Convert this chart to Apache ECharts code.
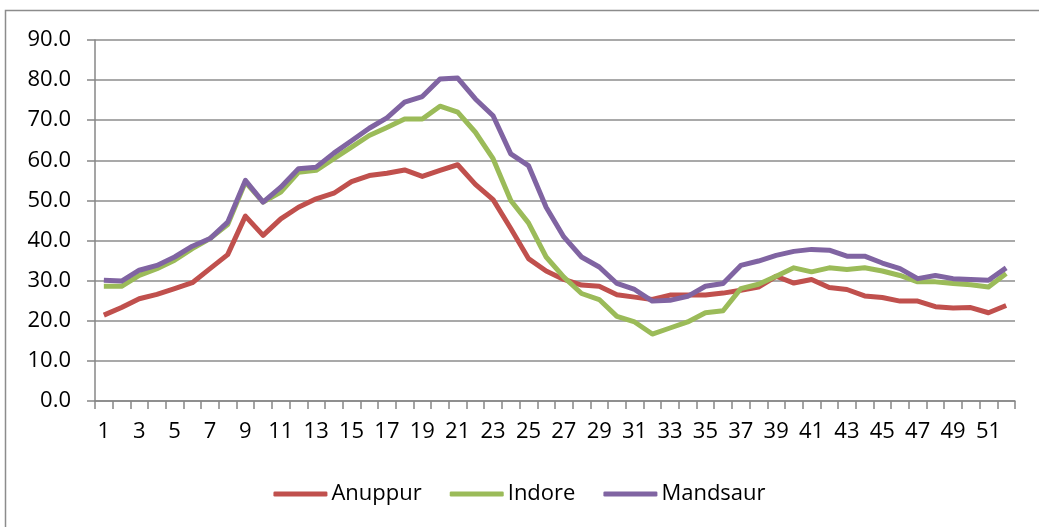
<!DOCTYPE html>
<html>
<head>
<meta charset="utf-8">
<script src="https://cdn.jsdelivr.net/npm/echarts@6/dist/echarts.min.js"></script>
<style>
  html, body { margin: 0; padding: 0; background: #fff; }
  #chart { width: 1039px; height: 527px; }
</style>
</head>
<body>
<div id="chart"></div>
<script>
var weeks = [];
for (var i = 1; i <= 52; i++) weeks.push(String(i));

var anuppur = [21.4, 23.3, 25.5, 26.6, 28.0, 29.5, 33.0, 36.5, 46.1, 41.3,
    45.4, 48.3, 50.4, 51.8, 54.7, 56.2, 56.8, 57.6, 56.0, 57.5,
    58.9, 54.0, 50.2, 43.0, 35.5, 32.4, 30.3, 28.9, 28.6, 26.5,
    25.9, 25.3, 26.4, 26.4, 26.4, 26.9, 27.6, 28.4, 31.1, 29.4,
    30.3, 28.3, 27.8, 26.2, 25.8, 24.9, 24.9, 23.5, 23.2, 23.3,
    22.0, 23.8];
var indore = [28.6, 28.6, 31.3, 33.0, 35.1, 38.0, 40.5, 44.0, 54.6, 49.6,
    52.1, 57.0, 57.5, 60.4, 63.3, 66.2, 68.2, 70.3, 70.3, 73.5,
    72.0, 67.0, 60.4, 50.0, 44.4, 35.9, 30.9, 26.8, 25.3, 21.1,
    19.7, 16.7, 18.2, 19.7, 22.0, 22.5, 28.0, 29.1, 31.1, 33.2,
    32.2, 33.2, 32.8, 33.2, 32.4, 31.3, 29.7, 29.7, 29.3, 29.0,
    28.4, 31.8];
var mandsaur = [30.1, 29.9, 32.6, 33.8, 35.9, 38.6, 40.5, 44.6, 55.0, 49.6,
    53.3, 57.9, 58.3, 61.8, 64.9, 68.0, 70.6, 74.5, 75.9, 80.3,
    80.5, 75.3, 71.1, 61.6, 58.7, 48.3, 40.9, 35.9, 33.4, 29.3,
    27.8, 24.9, 25.1, 26.1, 28.6, 29.3, 33.8, 34.9, 36.3, 37.3,
    37.8, 37.6, 36.1, 36.1, 34.4, 33.0, 30.5, 31.3, 30.5, 30.3,
    30.1, 33.2];

var seriesNames = ['Anuppur', 'Indore', 'Mandsaur'];
var seriesColors = ['#C0504D', '#9BBB59', '#8064A2'];
var seriesData = [anuppur, indore, mandsaur];

var fontName = 'Open Sans';

var option = {
    animation: false,
    backgroundColor: '#fff',
    graphic: [{
        type: 'rect',
        shape: { x: 5.5, y: 10.5, width: 1060, height: 560 },
        style: { fill: 'none', stroke: '#8c8c8c', lineWidth: 1.5 },
        silent: true
    }],
    grid: {
        left: 95,
        right: 24,
        top: 40,
        bottom: 126
    },
    legend: {
        data: seriesNames,
        left: 'center',
        top: 478,
        icon: 'roundRect',
        itemWidth: 54,
        itemHeight: 5,
        itemGap: 28,
        textStyle: { fontFamily: fontName, fontSize: 22, color: '#000', padding: [0, 0, 0, -1] }
    },
    xAxis: {
        type: 'category',
        data: weeks,
        boundaryGap: true,
        axisLine: { lineStyle: { color: '#878787', width: 1.5 } },
        axisTick: { show: true, interval: 0, length: 8, lineStyle: { color: '#878787', width: 1.5 } },
        axisLabel: { interval: 1, margin: 20, fontFamily: fontName, fontSize: 22, color: '#000' },
        splitLine: { show: false }
    },
    yAxis: {
        type: 'value',
        min: 0,
        max: 90,
        interval: 10,
        axisLine: { show: true, lineStyle: { color: '#878787', width: 1.5 } },
        axisTick: { show: true, length: 8, lineStyle: { color: '#878787', width: 1.5 } },
        axisLabel: {
            margin: 24,
            fontFamily: fontName,
            fontSize: 22,
            color: '#000',
            formatter: function (v) { return v.toFixed(1); }
        },
        splitLine: { show: true, lineStyle: { color: '#8c8c8c', width: 1.5 } }
    },
    series: seriesNames.map(function (name, k) {
        return {
            name: name,
            type: 'line',
            data: seriesData[k],
            symbol: 'none',
            smooth: false,
            color: seriesColors[k],
            lineStyle: { color: seriesColors[k], width: 5, join: 'round' }
        };
    })
};

var chart = echarts.init(document.getElementById('chart'));
chart.setOption(option);
</script>
</body>
</html>
